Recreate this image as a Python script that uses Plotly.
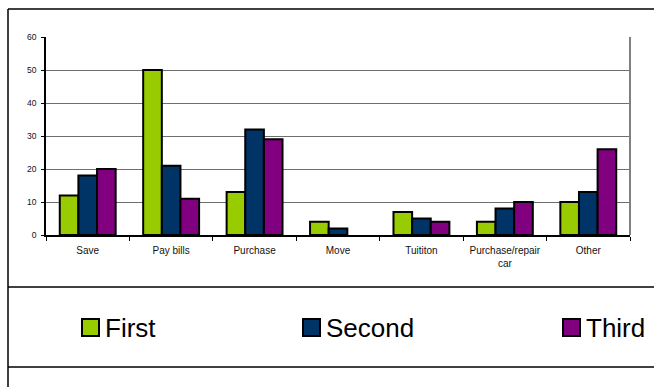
import plotly.graph_objects as go

categories = ["Save", "Pay bills", "Purchase", "Move", "Tuititon", "Purchase/repair<br>car", "Other"]
series_names = ["First", "Second", "Third"]
first = [12, 50, 13, 4, 7, 4, 10]
second = [18, 21, 32, 2, 5, 8, 13]
third = [20, 11, 29, 0, 4, 10, 26]
colors = ["#99CC00", "#003366", "#800080"]
y_ticks = [0, 10, 20, 30, 40, 50, 60]

W, H = 654, 387
L, R, T, B = 46, 24, 37, 152
pw, ph = W - L - R, H - T - B


def px(x):
    return (x - L) / pw


def py(y):
    return (H - B - y) / ph


fig = go.Figure()
for name, vals, col in zip(series_names, [first, second, third], colors):
    fig.add_trace(go.Bar(
        x=categories, y=vals, name=name, showlegend=False,
        marker=dict(color=col, line=dict(color="black", width=[2 if v > 0 else 0 for v in vals])),
    ))

shapes = []
line_black = dict(color="black", width=1.5)
# outer frame
shapes.append(dict(type="line", xref="paper", yref="paper", x0=px(8), x1=px(8), y0=py(9), y1=py(400), line=line_black))
shapes.append(dict(type="line", xref="paper", yref="paper", x0=px(8), x1=px(670), y0=py(9), y1=py(9), line=line_black))
shapes.append(dict(type="line", xref="paper", yref="paper", x0=px(8), x1=px(670), y0=py(287), y1=py(287), line=line_black))
shapes.append(dict(type="line", xref="paper", yref="paper", x0=px(8), x1=px(670), y0=py(367), y1=py(367), line=line_black))
# gray right border of plot area
shapes.append(dict(type="line", xref="paper", yref="paper", x0=1, x1=1, y0=0, y1=1, line=dict(color="#808080", width=2)))

annotations = []
legend_x = [82, 303, 563]
for name, col, lx in zip(series_names, colors, legend_x):
    shapes.append(dict(type="rect", xref="paper", yref="paper",
                       x0=px(lx), x1=px(lx + 17), y0=py(319), y1=py(336),
                       fillcolor=col, line=dict(color="black", width=2)))
    annotations.append(dict(text=name, xref="paper", yref="paper", x=px(lx + 21), y=py(328),
                            xanchor="left", yanchor="middle", showarrow=False,
                            font=dict(family="Liberation Sans", size=26, color="black")))

fig.update_layout(
    width=W, height=H,
    margin=dict(l=L, r=R, t=T, b=B),
    paper_bgcolor="white", plot_bgcolor="white",
    barmode="group", bargap=0.33, bargroupgap=0,
    font=dict(family="Liberation Sans", color="black"),
    shapes=shapes, annotations=annotations,
    showlegend=False,
    xaxis=dict(
        showline=True, linecolor="black", linewidth=1.5,
        ticks="outside", tickson="boundaries", ticklen=4, tickcolor="black", tickwidth=1,
        tickfont=dict(size=10, color="#111"), showgrid=False, ticklabelstandoff=5,
    ),
    yaxis=dict(
        range=[0, 60], tickvals=y_ticks, showline=True, linecolor="black", linewidth=1.5,
        ticks="outside", ticklen=3, tickcolor="black",
        gridcolor="#6e6e6e", gridwidth=1.2, zeroline=False,
        tickfont=dict(size=8.5, color="#111"), ticklabelstandoff=3,
    ),
)

fig.write_html("out.html")
